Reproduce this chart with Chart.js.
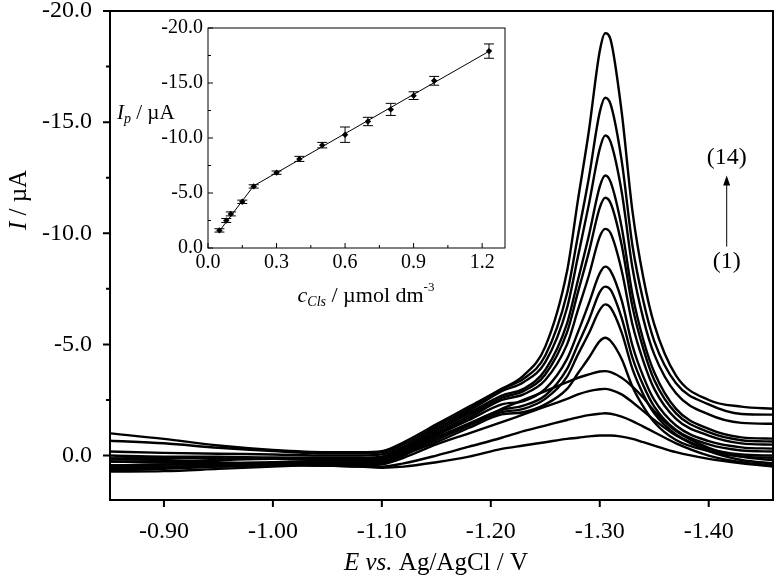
<!DOCTYPE html>
<html>
<head>
<meta charset="utf-8">
<script src="https://cdn.jsdelivr.net/npm/chart.js@4.4.1/dist/chart.umd.min.js"></script>
<style>
  html, body { margin: 0; padding: 0; background: #fff; }
  #wrap { position: relative; width: 775px; height: 586px; }
  #mainChart { position: absolute; left: 0; top: 0; }
  #insetChart { position: absolute; left: 112px; top: 12px; }
</style>
</head>
<body>
<div id="wrap">
  <canvas id="mainChart" width="775" height="586"></canvas>
  <canvas id="insetChart" width="400" height="300"></canvas>
</div>
<script>
// potential (V vs Ag/AgCl) shared by all voltammograms
const potential = [-0.85, -0.90, -0.95, -1.00, -1.05, -1.08, -1.10, -1.12, -1.15, -1.18, -1.21, -1.23, -1.25, -1.27,
  -1.28, -1.29, -1.30, -1.305, -1.31, -1.32, -1.33, -1.34, -1.35, -1.37, -1.40, -1.43, -1.46];

// current (uA), curve (1) .. (14)
const cv01 = [0.13, 0.2, 0.3, 0.4, 0.45, 0.5, 0.55, 0.5, 0.3, 0.05, -0.3, -0.45, -0.6, -0.75, -0.8, -0.86, -0.9, -0.9, -0.9, -0.85, -0.75, -0.6, -0.45, -0.15, 0.15, 0.35, 0.5];
const cv02 = [0.27, 0.3, 0.35, 0.4, 0.45, 0.5, 0.5, 0.35, 0.0, -0.4, -0.8, -1.1, -1.35, -1.6, -1.72, -1.82, -1.88, -1.9, -1.88, -1.75, -1.55, -1.3, -1.05, -0.55, 0.0, 0.3, 0.45];
const cv03 = [0.45, 0.4, 0.4, 0.4, 0.45, 0.45, 0.4, 0.1, -0.5, -1.0, -1.5, -1.85, -2.2, -2.55, -2.75, -2.9, -2.98, -3.0, -2.95, -2.75, -2.4, -2.0, -1.6, -0.9, -0.2, 0.2, 0.36];
const cv04 = [0.6, 0.55, 0.5, 0.45, 0.4, 0.4, 0.35, 0.0, -0.8, -1.4, -2.1, -2.5, -2.9, -3.3, -3.5, -3.65, -3.78, -3.8, -3.75, -3.5, -3.1, -2.6, -2.0, -1.1, -0.35, 0.05, 0.22];
const cv05 = [0.72, 0.7, 0.6, 0.5, 0.4, 0.35, 0.3, -0.05, -0.6, -1.25, -1.85, -1.95, -2.3, -3.0, -3.7, -4.4, -5.15, -5.3, -5.15, -4.35, -3.1, -2.2, -1.5, -0.7, -0.2, 0.05, 0.1];
const cv06 = [0.67, 0.6, 0.5, 0.4, 0.35, 0.3, 0.3, -0.1, -0.7, -1.35, -1.95, -2.1, -2.55, -3.55, -4.55, -5.5, -6.55, -6.8, -6.65, -5.55, -3.9, -2.75, -1.9, -0.95, -0.3, -0.05, 0.0];
const cv07 = [0.54, 0.5, 0.45, 0.35, 0.3, 0.3, 0.25, -0.15, -0.8, -1.45, -2.05, -2.25, -2.7, -3.9, -5.0, -6.1, -7.35, -7.6, -7.45, -6.2, -4.4, -3.15, -2.2, -1.15, -0.5, -0.23, -0.18];
const cv08 = [0.45, 0.4, 0.35, 0.3, 0.25, 0.25, 0.2, -0.2, -0.9, -1.6, -2.3, -2.45, -3.0, -4.35, -5.55, -6.85, -8.2, -8.5, -8.3, -7.0, -4.95, -3.55, -2.5, -1.35, -0.65, -0.37, -0.31];
const cv09 = [0.27, 0.25, 0.2, 0.15, 0.2, 0.2, 0.15, -0.25, -0.95, -1.7, -2.5, -2.75, -3.4, -5.0, -6.55, -8.1, -9.85, -10.2, -10.0, -8.35, -5.9, -4.25, -3.0, -1.65, -0.9, -0.55, -0.49];
const cv10 = [0.13, 0.1, 0.1, 0.1, 0.15, 0.15, 0.1, -0.3, -1.0, -1.8, -2.6, -2.9, -3.65, -5.55, -7.35, -9.15, -11.15, -11.6, -11.35, -9.5, -6.7, -4.8, -3.4, -1.9, -1.05, -0.69, -0.63];
const cv11 = [0.0, 0.05, 0.05, 0.1, 0.1, 0.1, 0.05, -0.35, -1.1, -1.9, -2.7, -3.0, -3.85, -5.95, -7.9, -9.9, -12.1, -12.6, -12.3, -10.3, -7.25, -5.2, -3.75, -2.1, -1.2, -0.82, -0.76];
const cv12 = [-0.18, -0.12, -0.08, -0.05, 0.0, 0.0, -0.05, -0.4, -1.2, -2.0, -2.9, -3.3, -4.2, -6.65, -8.95, -11.3, -13.8, -14.4, -14.1, -11.9, -8.45, -6.15, -4.55, -2.8, -1.85, -1.47, -1.43];
const cv13 = [-0.67, -0.55, -0.35, -0.2, -0.1, -0.1, -0.15, -0.5, -1.3, -2.1, -3.0, -3.45, -4.5, -7.3, -9.9, -12.5, -15.45, -16.1, -15.8, -13.3, -9.45, -6.95, -5.15, -3.25, -2.3, -1.87, -1.84];
const cv14 = [-1.0, -0.75, -0.45, -0.25, -0.15, -0.15, -0.2, -0.6, -1.4, -2.2, -3.0, -3.6, -4.9, -8.3, -11.5, -14.6, -18.2, -19.0, -18.7, -15.5, -11.0, -8.0, -5.9, -3.6, -2.5, -2.2, -2.1];
const curves = [cv01, cv02, cv03, cv04, cv05, cv06, cv07, cv08, cv09, cv10, cv11, cv12, cv13, cv14];

const xTicks = [-0.90, -1.00, -1.10, -1.20, -1.30, -1.40];
const yTicks = [-20, -15, -10, -5, 0];
const yMinorTicks = [-17.5, -12.5, -7.5, -2.5];

// inset: peak current vs concentration
const conc = [0.05, 0.08, 0.10, 0.15, 0.20, 0.30, 0.40, 0.50, 0.60, 0.70, 0.80, 0.90, 0.99, 1.23];
const peakCurrent = [-1.6, -2.5, -3.1, -4.2, -5.6, -6.85, -8.1, -9.35, -10.3, -11.5, -12.6, -13.85, -15.2, -17.9];
const peakErr = [0.15, 0.18, 0.18, 0.15, 0.15, 0.15, 0.23, 0.25, 0.7, 0.38, 0.55, 0.35, 0.4, 0.65];
const fitLowX = [0.05, 0.20];
const fitLowY = [-1.55, -5.65];
const fitHighX = [0.20, 1.24];
const fitHighY = [-5.65, -18.0];
const insetXTicks = [0, 0.3, 0.6, 0.9, 1.2];
const insetXMinor = [0.15, 0.45, 0.75, 1.05];
const insetYTicks = [0, -5, -10, -15, -20];
const insetYMinor = [-2.5, -7.5, -12.5, -17.5];

const SERIF = "'Liberation Serif', 'Times New Roman', serif";

function drawRich(ctx, parts, x, y, align) {
  let total = 0;
  parts.forEach(p => { ctx.font = p.font; p.w = ctx.measureText(p.text).width; total += p.w; });
  let cx = align === "center" ? x - total / 2 : x;
  ctx.textAlign = "left";
  ctx.textBaseline = "middle";
  parts.forEach(p => { ctx.font = p.font; ctx.fillText(p.text, cx, y + (p.dy || 0)); cx += p.w; });
}

// fix the plot box to exact pixel sizes
const fitY = w => s => { s.width = w; s.paddingTop = 0; s.paddingBottom = 0; };
const fitX = h => s => { s.height = h; s.paddingLeft = 0; s.paddingRight = 0; };

const mainDecor = {
  id: "mainDecor",
  afterDraw(chart) {
    const { ctx, chartArea: a, scales: { x, y } } = chart;
    ctx.save();
    ctx.strokeStyle = "#000";
    ctx.fillStyle = "#000";
    ctx.lineWidth = 2;
    ctx.strokeRect(a.left, a.top, a.right - a.left, a.bottom - a.top);
    ctx.beginPath();
    xTicks.forEach(v => { const px = x.getPixelForValue(v); ctx.moveTo(px, a.bottom); ctx.lineTo(px, a.bottom + 7); });
    yTicks.forEach(v => { const py = y.getPixelForValue(v); ctx.moveTo(a.left - 7, py); ctx.lineTo(a.left, py); });
    yMinorTicks.forEach(v => { const py = y.getPixelForValue(v); ctx.moveTo(a.left - 4, py); ctx.lineTo(a.left, py); });
    ctx.stroke();

    drawRich(ctx, [
      { text: "E", font: "italic 25px " + SERIF },
      { text: " vs.", font: "italic 25px " + SERIF },
      { text: " Ag/AgCl / V", font: "25px " + SERIF }
    ], 436, 563, "center");

    ctx.save();
    ctx.translate(19, 200);
    ctx.rotate(-Math.PI / 2);
    drawRich(ctx, [
      { text: "I", font: "italic 25px " + SERIF },
      { text: " / \u00b5A", font: "25px " + SERIF }
    ], 0, 0, "center");
    ctx.restore();

    // arrow (1) -> (14)
    const ax = x.getPixelForValue(-1.4165);
    const tip = y.getPixelForValue(-12.6);
    const tail = y.getPixelForValue(-9.4);
    ctx.lineWidth = 1;
    ctx.beginPath();
    ctx.moveTo(ax, tail);
    ctx.lineTo(ax, tip + 8);
    ctx.stroke();
    ctx.beginPath();
    ctx.moveTo(ax, tip);
    ctx.lineTo(ax - 3.5, tip + 10);
    ctx.lineTo(ax + 3.5, tip + 10);
    ctx.closePath();
    ctx.fill();
    ctx.font = "24px " + SERIF;
    ctx.textAlign = "center";
    ctx.textBaseline = "middle";
    ctx.fillText("(14)", ax, y.getPixelForValue(-13.4));
    ctx.fillText("(1)", ax, y.getPixelForValue(-8.7));
    ctx.restore();
  }
};

new Chart(document.getElementById("mainChart"), {
  type: "line",
  data: {
    datasets: curves.map(c => ({
      data: c.map((v, i) => ({ x: potential[i], y: v })),
      borderColor: "#000",
      borderWidth: 2.4,
      pointRadius: 0,
      cubicInterpolationMode: "monotone",
      fill: false
    }))
  },
  options: {
    responsive: false,
    animation: false,
    devicePixelRatio: 1,
    layout: { padding: { top: 11, right: 2, left: 0, bottom: 0 } },
    plugins: { legend: { display: false }, tooltip: { enabled: false } },
    scales: {
      x: {
        type: "linear", reverse: true, min: -1.459, max: -0.8505,
        afterBuildTicks: s => { s.ticks = xTicks.map(v => ({ value: v })); },
        afterFit: fitX(86),
        grid: { display: false, drawTicks: false }, border: { display: false },
        ticks: {
          font: { family: SERIF, size: 24 }, color: "#000", padding: 17,
          maxRotation: 0, autoSkip: false, callback: v => v.toFixed(2)
        }
      },
      y: {
        type: "linear", reverse: true, min: -20, max: 2,
        afterBuildTicks: s => { s.ticks = yTicks.map(v => ({ value: v })); },
        afterFit: fitY(110),
        grid: { display: false, drawTicks: false }, border: { display: false },
        ticks: {
          font: { family: SERIF, size: 24 }, color: "#000", padding: 18,
          autoSkip: false, callback: v => v.toFixed(1)
        }
      }
    }
  },
  plugins: [mainDecor]
});

const insetDecor = {
  id: "insetDecor",
  afterDraw(chart) {
    const { ctx, chartArea: a, scales: { x, y } } = chart;
    ctx.save();
    ctx.strokeStyle = "#000";
    ctx.fillStyle = "#000";
    ctx.lineWidth = 1;
    ctx.strokeRect(a.left, a.top, a.right - a.left, a.bottom - a.top);
    ctx.beginPath();
    insetXTicks.forEach(v => { const px = x.getPixelForValue(v); ctx.moveTo(px, a.bottom); ctx.lineTo(px, a.bottom - 5); });
    insetXMinor.forEach(v => { const px = x.getPixelForValue(v); ctx.moveTo(px, a.bottom); ctx.lineTo(px, a.bottom - 3); });
    insetYTicks.forEach(v => { const py = y.getPixelForValue(v); ctx.moveTo(a.left, py); ctx.lineTo(a.left + 5, py); });
    insetYMinor.forEach(v => { const py = y.getPixelForValue(v); ctx.moveTo(a.left, py); ctx.lineTo(a.left + 3, py); });
    ctx.stroke();

    // error bars
    ctx.beginPath();
    conc.forEach((c, i) => {
      const px = x.getPixelForValue(c);
      const y1 = y.getPixelForValue(peakCurrent[i] - peakErr[i]);
      const y2 = y.getPixelForValue(peakCurrent[i] + peakErr[i]);
      ctx.moveTo(px, y1); ctx.lineTo(px, y2);
      ctx.moveTo(px - 5, y1); ctx.lineTo(px + 5, y1);
      ctx.moveTo(px - 5, y2); ctx.lineTo(px + 5, y2);
    });
    ctx.stroke();

    drawRich(ctx, [
      { text: "I", font: "italic 21px " + SERIF },
      { text: "p", font: "italic 14px " + SERIF, dy: 6 },
      { text: " / \u00b5A", font: "21px " + SERIF }
    ], 5, 101, "left");

    drawRich(ctx, [
      { text: "c", font: "italic 22px " + SERIF },
      { text: "Cls", font: "italic 14px " + SERIF, dy: 6 },
      { text: " / \u00b5mol dm", font: "22px " + SERIF },
      { text: "-3", font: "13px " + SERIF, dy: -8 }
    ], 254, 284, "center");
    ctx.restore();
  }
};

new Chart(document.getElementById("insetChart"), {
  type: "scatter",
  data: {
    datasets: [
      {
        data: conc.map((c, i) => ({ x: c, y: peakCurrent[i] })),
        pointStyle: "rectRot", pointRadius: 3.2,
        backgroundColor: "#000", borderColor: "#000", borderWidth: 0, showLine: false
      },
      {
        data: fitLowX.map((c, i) => ({ x: c, y: fitLowY[i] })),
        showLine: true, pointRadius: 0, borderColor: "#000", borderWidth: 1
      },
      {
        data: fitHighX.map((c, i) => ({ x: c, y: fitHighY[i] })),
        showLine: true, pointRadius: 0, borderColor: "#000", borderWidth: 1
      }
    ]
  },
  options: {
    responsive: false,
    animation: false,
    devicePixelRatio: 1,
    layout: { padding: { top: 16, right: 7, left: 0, bottom: 0 } },
    plugins: { legend: { display: false }, tooltip: { enabled: false } },
    scales: {
      x: {
        type: "linear", min: 0, max: 1.3,
        afterBuildTicks: s => { s.ticks = insetXTicks.map(v => ({ value: v })); },
        afterFit: fitX(64),
        grid: { display: false, drawTicks: false }, border: { display: false },
        ticks: {
          font: { family: SERIF, size: 20 }, color: "#000", padding: 3,
          maxRotation: 0, autoSkip: false, callback: v => v.toFixed(1)
        }
      },
      y: {
        type: "linear", reverse: true, min: -20, max: 0,
        afterBuildTicks: s => { s.ticks = insetYTicks.map(v => ({ value: v })); },
        afterFit: fitY(96),
        grid: { display: false, drawTicks: false }, border: { display: false },
        ticks: {
          font: { family: SERIF, size: 20 }, color: "#000", padding: 5,
          autoSkip: false, callback: v => v.toFixed(1)
        }
      }
    }
  },
  plugins: [insetDecor]
});
</script>
</body>
</html>
